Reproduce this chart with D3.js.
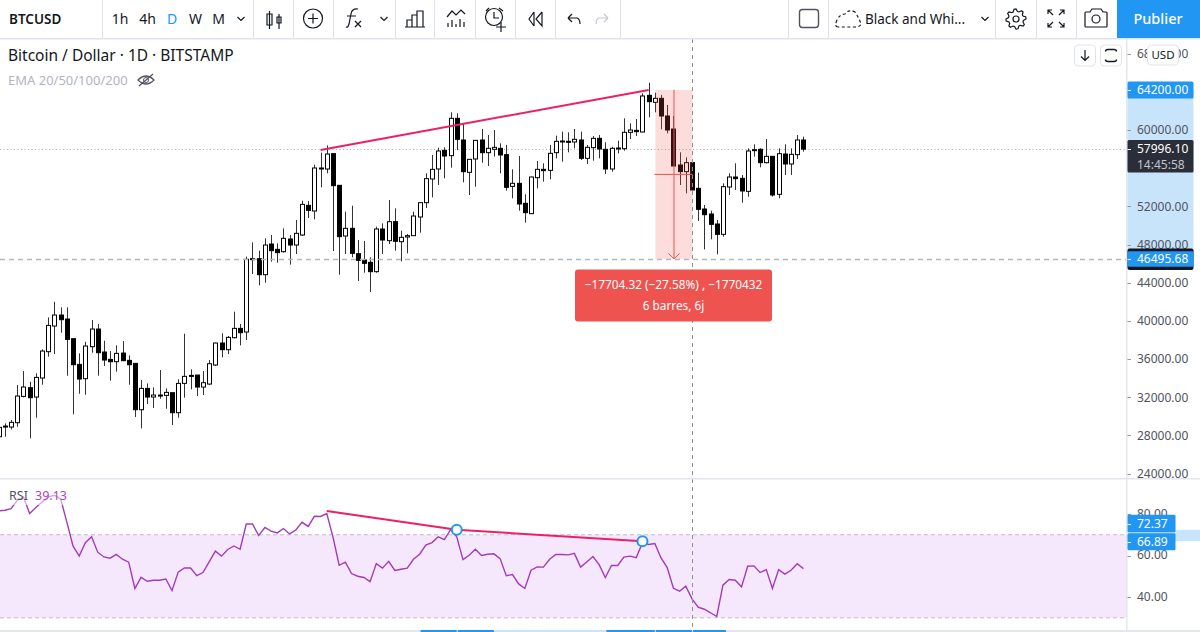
<!DOCTYPE html>
<html>
<head>
<meta charset="utf-8">
<title>BTCUSD</title>
<script src="https://cdnjs.cloudflare.com/ajax/libs/d3/7.8.5/d3.min.js"></script>
<style>
  html, body { margin: 0; padding: 0; background: #fff; overflow: hidden; }
  svg { display: block; font-family: "Noto Sans", sans-serif; }
</style>
</head>
<body>
<svg id="chart" width="1200" height="632"></svg>
<script>
// Daily BTC/USD candles
const opens = [27863,28980,28876,29330,32089,32998,32020,34010,36770,39460,40612,40193,38132,35443,33941,37294,39145,36735,35967,35722,36630,35862,35547,30692,32928,32020,32229,32194,32474,30378,33452,34290,34325,33067,33382,35373,37678,36980,38237,39215,38832,46517,46517,44840,48054,47495,47251,48578,47949,48997,52106,51512,56018,55913,57520,54202,48892,49696,47041,46377,46133,45155,49626,48403,50394,48298,48788,48927,50883,52385,54866,55914,57870,57311,61223,58953,55564,56962,58953,57625,57975,58079,57416,54097,54412,52316,51233,55005,55879,55774,57625,58743,58813,58743,58953,57032,58149,59127,57975,55914,58044,58044,59756,59966,59791,63633,62900,63319,61468,60105,56333,55634,56577,53888,51722,51198,50150,49067,54027,55075,54936,53573,57870,57975,56577,57241,53259,57486,56438,57416,58953];
const highs = [28911,29260,29609,33277,34744,33626,34500,37015,40368,42009,41416,41416,38132,36595,37818,40088,39669,37923,36840,37434,37888,36386,35547,33801,33452,33032,34849,32928,32474,33871,38656,34919,34325,34744,35897,37713,38691,38412,40962,39669,46727,48229,47355,48648,48997,48124,49696,48997,50569,52595,52560,56367,57625,58393,57555,54237,51442,52071,48473,48368,46657,49870,50220,52665,51791,49451,49102,51442,52385,55459,57381,58149,58184,61852,61747,60629,56927,58953,60105,59477,60000,58603,58429,55879,57276,53259,55110,56752,56507,58429,59407,59826,59756,60105,59826,58429,59372,59477,58708,58254,58883,61223,60699,61153,63843,64961,63913,63668,62620,61468,57660,57136,56927,55530,52141,51547,50570,54412,55460,56507,55285,58079,58498,58079,59057,57276,58079,58498,58079,59477,59302];
const lows = [27269,27863,28631,28911,31985,27688,29854,33312,36246,36525,38761,34255,30203,32369,32264,36665,34255,35268,33731,34674,35792,33312,29924,28736,31286,30867,31845,30797,29085,29854,31950,32823,32124,32229,33277,35268,36176,36525,38167,37434,37994,44910,43723,44002,46203,46098,47146,45888,47006,48892,50779,50639,53992,55459,47320,44840,47006,46657,44177,45050,43024,45050,47006,48054,47355,46237,47076,48892,49242,51826,52945,54237,54936,56054,57905,54516,53189,54062,56577,56228,57206,55460,53643,52840,51547,50290,51198,53888,54586,54831,57032,56682,57660,58079,56857,56438,56787,57032,55390,55634,57555,57835,59057,59372,59756,61328,61852,60070,59651,56228,54237,53364,53713,50465,47496,48543,46972,48823,53189,53713,52386,53014,57206,56088,56507,53014,52840,55285,55285,56962,57730];
const closes = [28841,28876,29365,32124,33067,31950,34080,36840,39529,40612,40123,38062,35408,33906,37364,39145,36665,35897,35722,36595,35827,35408,30692,32928,32020,32229,32159,32508,30378,33452,34185,34185,33067,33522,35512,37678,36980,38272,39215,38761,46447,46412,44840,47949,47355,47146,48648,47949,49172,52211,51582,56018,55913,57485,54167,48822,49696,47076,46342,46028,45155,49626,48473,50394,48334,48753,48927,50988,52385,54900,55879,57800,57276,61223,59022,55634,56927,58918,57625,58079,58184,57381,53993,54412,52246,51338,55075,55879,55739,57555,58813,58848,58708,59022,57032,58184,59127,58009,55914,58079,58114,59756,60000,59826,63563,62970,63319,61468,60000,56228,55634,56577,53713,51687,51128,50115,49067,54062,55075,54900,53608,57800,57940,56577,57241,53189,57520,56438,57451,58953,57996.10];

// RSI(14) per session
const rsi = [81.5,81.8,82.6,86.6,88.2,80.2,83.1,85.8,88.2,89.0,87.4,76.2,64.6,59.7,66.2,69.0,61.6,59.3,58.7,60.5,58.2,56.8,44.1,49.5,47.6,48.1,48.1,48.7,43.1,52.0,54.0,54.0,50.3,51.8,56.9,62.1,59.7,62.9,64.6,63.0,75.2,75.2,69.6,73.5,71.7,70.9,73.0,70.4,72.3,76.0,74.0,78.9,78.8,80.2,69.0,55.3,56.8,51.3,50.0,49.4,47.4,56.1,53.9,57.2,52.8,53.4,53.9,58.2,60.6,65.0,66.2,69.0,67.7,72.5,69.0,58.0,60.1,63.0,60.0,60.6,60.8,58.5,50.3,50.8,46.3,44.1,52.9,54.5,54.4,58.2,60.5,60.5,60.3,61.0,54.4,56.9,59.5,55.6,49.4,55.2,55.2,59.2,59.7,59.0,66.1,65.3,65.8,58.8,54.2,44.2,42.8,45.2,39.13,35.1,34.1,32.4,30.6,45.7,48.4,48.1,44.9,54.8,55.0,51.8,53.2,44.1,53.2,51.0,52.9,56.0,53.7];

// Axis ticks and annotated levels
const priceTicks = [68000,60000,52000,48000,44000,40000,36000,32000,28000,24000];
const rsiTicks = [80,60,40];
const lastPrice = 57996.10;
const countdown = "14:45:58";
const measureFrom = {bar: 106, price: 64200};
const measureTo = {bar: 112, price: 46495.68};
const priceTrend = [{bar: 52, value: 57900}, {bar: 105, value: 64200}];
const rsiTrend = [{bar: 53, value: 81.5}, {bar: 74, value: 72.37}, {bar: 104, value: 66.89}];
const rsiBand = [70, 30];
const dateRanges = [[68,74,1],[74,80,1],[80,98,0],[98,106,1],[106,112,1],[112,117.5,1]];
const toolbarLabels = [["1h",120],["4h",147.5],["D",172],["W",195.5],["M",218.5]];
const toolbarSeparators = [102.5,253.5,293.5,333.5,395.5,434.5,475.5,515.5,555.5,620.5,788.5,828.5,995.5,1036.5,1076.5];

const W = 1200, H = 632, axisX = 1126;
const bull = "#ffffff", ink = "#000000", textCol = "#50535e", blue = "#2196f3", paleBlue = "#c8e4fb";
const red = "#ef5350", pink = "#ee1f66", violet = "#a23cb8";
const bars = d3.range(opens.length).map(i => ({i, o: opens[i], h: highs[i], l: lows[i], c: closes[i]}));

const x = d3.scaleLinear().domain([0, 130]).range([-1.3, 803.4]);
const y = d3.scaleLinear().domain([60000, 44000]).range([130, 282.7]);
const yR = d3.scaleLinear().domain([40, 60]).range([597, 555.5]);
const px = v => Math.round(v) + 0.5;

const svg = d3.select("#chart");
const defs = svg.append("defs");
defs.append("clipPath").attr("id", "paneP").append("rect").attr("x", 0).attr("y", 39).attr("width", axisX).attr("height", 439);
defs.append("clipPath").attr("id", "paneR").append("rect").attr("x", 0).attr("y", 479).attr("width", axisX).attr("height", 151);

svg.append("rect").attr("width", W).attr("height", H).attr("fill", "#fff");

// ---- Price pane ----
const pane = svg.append("g").attr("clip-path", "url(#paneP)");

pane.append("line").attr("x1", 0).attr("x2", axisX).attr("y1", px(y(lastPrice))).attr("y2", px(y(lastPrice)))
  .attr("stroke", "#a9adb8").attr("stroke-dasharray", "1,2.5");

const candle = pane.append("g").selectAll("g").data(bars).join("g")
  .attr("transform", d => `translate(${px(x(d.i))},0)`);
candle.append("line").attr("y1", d => y(d.h)).attr("y2", d => y(d.l)).attr("stroke", "#333");
candle.append("rect")
  .attr("x", -2).attr("width", 4)
  .attr("y", d => y(Math.max(d.o, d.c)))
  .attr("height", d => Math.max(1, Math.abs(y(d.o) - y(d.c))))
  .attr("fill", d => d.c >= d.o ? bull : ink)
  .attr("stroke", ink);

// Trend line across the price highs
pane.append("line")
  .attr("x1", x(priceTrend[0].bar)).attr("y1", y(priceTrend[0].value))
  .attr("x2", x(priceTrend[1].bar)).attr("y2", y(priceTrend[1].value))
  .attr("stroke", pink).attr("stroke-width", 2);

// Price-range measurement
const mx0 = x(measureFrom.bar) + 0.6, mx1 = x(measureTo.bar) + 0.6;
const my0 = y(measureFrom.price), my1 = y(measureTo.price);
const mmx = (mx0 + mx1) / 2, mmy = (my0 + my1) / 2;
pane.append("rect").attr("x", mx0).attr("y", my0).attr("width", mx1 - mx0).attr("height", my1 - my0)
  .attr("fill", red).attr("fill-opacity", 0.2);
pane.append("line").attr("x1", mx0 - 1).attr("x2", mx1).attr("y1", mmy).attr("y2", mmy).attr("stroke", red);
pane.append("line").attr("x1", mmx).attr("x2", mmx).attr("y1", my0).attr("y2", my1).attr("stroke", red);
pane.append("path").attr("d", `M${mmx - 5.5},${my1 - 5.5}L${mmx},${my1}L${mmx + 5.5},${my1 - 5.5}`)
  .attr("fill", "none").attr("stroke", red);

// Crosshair
pane.append("line").attr("x1", 0).attr("x2", axisX).attr("y1", px(my1)).attr("y2", px(my1))
  .attr("stroke", "#b4b6c0").attr("stroke-width", 1.4).attr("stroke-dasharray", "5,4");

// ---- RSI pane ----
const rPane = svg.append("g").attr("clip-path", "url(#paneR)");
rPane.append("rect").attr("x", 0).attr("width", axisX).attr("y", yR(rsiBand[0])).attr("height", yR(rsiBand[1]) - yR(rsiBand[0]))
  .attr("fill", "#f5e8fd");
rsiBand.forEach(v => rPane.append("line").attr("x1", 0).attr("x2", axisX).attr("y1", yR(v)).attr("y2", yR(v))
  .attr("stroke", "#c4bcc8").attr("stroke-dasharray", "4,3"));
rPane.append("path").datum(rsi)
  .attr("d", d3.line().x((d, i) => x(i)).y(d => yR(d)))
  .attr("fill", "none").attr("stroke", violet).attr("stroke-width", 1.4);

rPane.append("rect").attr("x", 6).attr("y", 486).attr("width", 63).attr("height", 19).attr("fill", "#fff").attr("fill-opacity", 0.55);

rPane.append("path").datum(rsiTrend)
  .attr("d", d3.line().x(d => x(d.bar)).y(d => yR(d.value)))
  .attr("fill", "none").attr("stroke", pink).attr("stroke-width", 2);
rPane.selectAll("circle").data(rsiTrend.slice(1)).join("circle")
  .attr("cx", d => x(d.bar)).attr("cy", d => yR(d.value)).attr("r", 5)
  .attr("fill", "#fff").attr("stroke", blue).attr("stroke-width", 2);

// Vertical crosshair crosses both panes
svg.append("line").attr("x1", px(x(measureTo.bar))).attr("x2", px(x(measureTo.bar))).attr("y1", 39).attr("y2", 630)
  .attr("stroke", "#8d909b").attr("stroke-dasharray", "4,4");

// Measurement readout sits above the crosshair
svg.append("rect").attr("x", 575).attr("y", 269.5).attr("width", 197).attr("height", 52).attr("rx", 3).attr("fill", red);
const change = measureTo.price - measureFrom.price;
const pct = change / measureFrom.price * 100;
const fmtMinus = (v, d) => "\u2212" + Math.abs(v).toFixed(d);
svg.append("text").attr("x", 673.5).attr("y", 289).attr("text-anchor", "middle").attr("fill", "#fff").attr("font-size", 11.8)
  .text(`${fmtMinus(change, 2)} (${fmtMinus(pct, 2)}%) , \u22121770432`);
svg.append("text").attr("x", 673.5).attr("y", 310).attr("text-anchor", "middle").attr("fill", "#fff").attr("font-size", 11.8)
  .text(`${measureTo.bar - measureFrom.bar} barres, ${measureTo.bar - measureFrom.bar}j`);

svg.append("text").attr("x", 9).attr("y", 500).attr("fill", textCol).attr("font-size", 12.5).text("RSI");
svg.append("text").attr("x", 35).attr("y", 500).attr("fill", "#ab47bc").attr("font-size", 12.5).text(rsi[measureTo.bar].toFixed(2));

// ---- Bottom time strip ----
svg.append("rect").attr("x", 0).attr("y", 630).attr("width", W).attr("height", 2).attr("fill", "#e4e6ec");
dateRanges.forEach(r => svg.append("rect").attr("x", x(r[0]) + 1).attr("y", 630).attr("width", x(r[1]) - x(r[0]) - 1).attr("height", 2)
  .attr("fill", r[2] ? blue : paleBlue));

// ---- Pane divider and right axis ----
svg.append("rect").attr("x", 0).attr("y", 478).attr("width", W).attr("height", 1.5).attr("fill", "#e4e6ec");
svg.append("rect").attr("x", axisX).attr("y", 39).attr("width", 1.5).attr("height", H - 39).attr("fill", "#e4e6ec");

const axisText = (sel, tx, ty, s, col, weight) => sel.append("text").attr("x", tx).attr("y", ty).attr("dy", "0.36em")
  .attr("fill", col || textCol).attr("font-size", 12).attr("font-weight", weight || 400).text(s);

svg.append("rect").attr("x", axisX + 1.5).attr("y", my0).attr("width", 66).attr("height", my1 - my0).attr("fill", paleBlue);
svg.append("rect").attr("x", axisX + 1.5).attr("y", yR(rsiTrend[1].value)).attr("width", W - axisX - 1.5)
  .attr("height", yR(rsiTrend[2].value) - yR(rsiTrend[1].value)).attr("fill", paleBlue);

const ax = svg.append("g");
priceTicks.forEach(v => {
  ax.append("line").attr("x1", axisX + 1.5).attr("x2", axisX + 5).attr("y1", px(y(v))).attr("y2", px(y(v))).attr("stroke", "#9598a1");
  axisText(ax, 1137, y(v), v.toFixed(2));
});
rsiTicks.forEach(v => {
  ax.append("line").attr("x1", axisX + 1.5).attr("x2", axisX + 5).attr("y1", px(yR(v))).attr("y2", px(yR(v))).attr("stroke", "#9598a1");
  axisText(ax, 1137, yR(v) - 0.5, v.toFixed(2));
});

function priceTag(cy, h, fill, value, w) {
  svg.append("rect").attr("x", axisX + 1.5).attr("y", cy - h / 2).attr("width", w).attr("height", h).attr("rx", 1.5).attr("fill", fill);
  svg.append("line").attr("x1", axisX + 1.5).attr("x2", axisX + 5).attr("y1", px(cy)).attr("y2", px(cy)).attr("stroke", "#fff");
  axisText(svg, 1137, cy, value, "#fff");
}
priceTag(y(measureFrom.price), 17, blue, measureFrom.price.toFixed(2), 66);
// Last-price tag with the bar countdown underneath
svg.append("rect").attr("x", axisX + 1.5).attr("y", 140).attr("width", 66).attr("height", 32.5).attr("rx", 1.5).attr("fill", "#2a2e39");
svg.append("line").attr("x1", axisX + 1.5).attr("x2", axisX + 5).attr("y1", px(y(lastPrice))).attr("y2", px(y(lastPrice))).attr("stroke", "#fff");
axisText(svg, 1137, y(lastPrice), lastPrice.toFixed(2), "#fff");
axisText(svg, 1137, 164.5, countdown, "#c1c4cd");
svg.append("rect").attr("x", axisX + 1.5).attr("y", 248.5).attr("width", 66).attr("height", 21.5).attr("rx", 2).attr("fill", "#131722");
priceTag(y(measureTo.price), 15.5, blue, measureTo.price.toFixed(2), 66);
priceTag(523.5, 17.5, blue, rsiTrend[1].value.toFixed(2), 48);
priceTag(541.7, 17, blue, rsiTrend[2].value.toFixed(2), 48);

// Axis currency badge and pane buttons
const badge = (bx, by, w, h) => svg.append("rect").attr("x", bx).attr("y", by).attr("width", w).attr("height", h).attr("rx", 4)
  .attr("fill", "#fff").attr("stroke", "#e0e3eb");
badge(1147.5, 45, 31, 20);
svg.append("text").attr("x", 1163).attr("y", 55).attr("dy", "0.36em").attr("text-anchor", "middle").attr("fill", "#131722").attr("font-size", 11.5).text("USD");
badge(1074.5, 45, 21, 21);
badge(1100.5, 45, 21, 21);
const icon = (d, col, sw) => svg.append("path").attr("d", d).attr("fill", "none").attr("stroke", col || "#131722").attr("stroke-width", sw || 1.2);
icon("M1085,50V60M1081,56.5L1085,60.5L1089,56.5");
icon("M1105.5,51.5Q1105.5,49.5 1108,49.5H1114Q1116.5,49.5 1116.5,51.5M1105.5,59.5Q1105.5,61.5 1108,61.5H1114Q1116.5,61.5 1116.5,59.5", "#131722", 1.4);

// ---- Header ----
svg.append("text").attr("x", 8).attr("y", 55).attr("dy", "0.36em").attr("fill", "#131722").attr("font-size", 15.5)
  .text("Bitcoin / Dollar \u00b7 1D \u00b7 BITSTAMP");
svg.append("text").attr("x", 8).attr("y", 80).attr("dy", "0.36em").attr("fill", "#b2b5be").attr("font-size", 13).text("EMA 20/50/100/200");
icon("M138,80Q146,72 154,80Q146,88 138,80ZM139,86L153,74", "#50535e");
svg.append("circle").attr("cx", 146).attr("cy", 80).attr("r", 2.5).attr("fill", "none").attr("stroke", "#50535e");

// ---- Toolbar ----
svg.append("rect").attr("x", 0).attr("y", 38).attr("width", W).attr("height", 1.5).attr("fill", "#e0e3eb");
toolbarSeparators.forEach(sx => svg.append("line").attr("x1", sx).attr("x2", sx).attr("y1", 0).attr("y2", 38).attr("stroke", "#e0e3eb"));
const tb = (tx, s, col, size, weight, anchor) => svg.append("text").attr("x", tx).attr("y", 19).attr("dy", "0.36em")
  .attr("text-anchor", anchor || "middle").attr("fill", col || "#131722").attr("font-size", size || 14).attr("font-weight", weight || 400).text(s);
tb(9, "BTCUSD", "#131722", 13.5, 600, "start");
toolbarLabels.forEach(t => tb(t[1], t[0], t[0] === "D" ? blue : "#131722", 14));
const chev = cx => icon(`M${cx - 3.5},17L${cx},20.5L${cx + 3.5},17`);
chev(241); chev(384); chev(985);
// candles
icon("M269.5,11V29M267,14H272V25H267ZM279,14V29M277,17H281V23H277Z");
// plus in a circle
svg.append("circle").attr("cx", 313).attr("cy", 18.5).attr("r", 9.5).attr("fill", "none").attr("stroke", "#131722").attr("stroke-width", 1.2);
icon("M308,18.5H318M313,13.5V23.5");
// fx
icon("M358,9Q352,8 351,14L349,24Q348,28 346,27M347,16H356M355,21L361,27M361,21L355,27");
// bars
icon("M407,27V20H412V27M412,27V15H417V27M417,27V11H423V27M405,27H425");
// indicators
icon("M447,17L452,11L456,15L461,10L465,14M448,27V23M452,27V20M456,27V24M460,27V19M464,27V22");
// alarm
svg.append("circle").attr("cx", 494).attr("cy", 17).attr("r", 8.5).attr("fill", "none").attr("stroke", "#131722").attr("stroke-width", 1.2);
icon("M494,12V18H499M486,11L489,8M499,8L503,11M496,27H506M501,22V32");
// rewind
icon("M534,12L529,19L534,26M542,12L536,19L542,26V12M534,12V26");
// undo, redo
icon("M568,18H577Q580,19 580,24M568,18L572,14M568,18L572,22");
icon("M608,18H599Q596,19 596,24M608,18L604,14M608,18L604,22", "#c5c8d0");
// drawing square
svg.append("rect").attr("x", 799.5).attr("y", 9.5).attr("width", 19).attr("height", 18).attr("rx", 3).attr("fill", "none").attr("stroke", "#50535e").attr("stroke-width", 1.4);
// cloud layout
icon("M838,27Q834,27 837,20Q840,14 845,14Q848,9 855,12Q860,20 861,24Q860,27 855,27Z", "#131722").attr("stroke-dasharray", "3,2.5");
tb(865, "Black and Whi...", "#131722", 13.5, 400, "start");
// settings gear: eight teeth around a hub
const gearPts = d3.range(32).map(k => {
  const a = (k - 1) * Math.PI / 16, r = [10, 10, 7.6, 7.6][k % 4];
  return [1016 + r * Math.cos(a), 19 + r * Math.sin(a)];
});
icon(d3.line().curve(d3.curveLinearClosed)(gearPts));
svg.append("circle").attr("cx", 1016).attr("cy", 19).attr("r", 3).attr("fill", "none").attr("stroke", "#131722").attr("stroke-width", 1.2);
// fullscreen
icon("M1048,14V10H1052M1048,10L1053,15M1064,14V10H1060M1064,10L1059,15M1048,23V27H1052M1048,27L1053,22M1064,23V27H1060M1064,27L1059,22");
// camera
icon("M1086,12H1090L1092,9H1101L1103,12H1106Q1107,12 1107,13V26Q1107,27 1106,27H1086Q1085,27 1085,26V13Q1085,12 1086,12Z");
svg.append("circle").attr("cx", 1096).attr("cy", 19).attr("r", 4).attr("fill", "none").attr("stroke", "#131722").attr("stroke-width", 1.2);
// publish button
svg.append("rect").attr("x", 1117).attr("y", 0).attr("width", 83).attr("height", 38).attr("fill", blue);
tb(1158, "Publier", "#fff", 14.5, 500);
</script>
</body>
</html>
